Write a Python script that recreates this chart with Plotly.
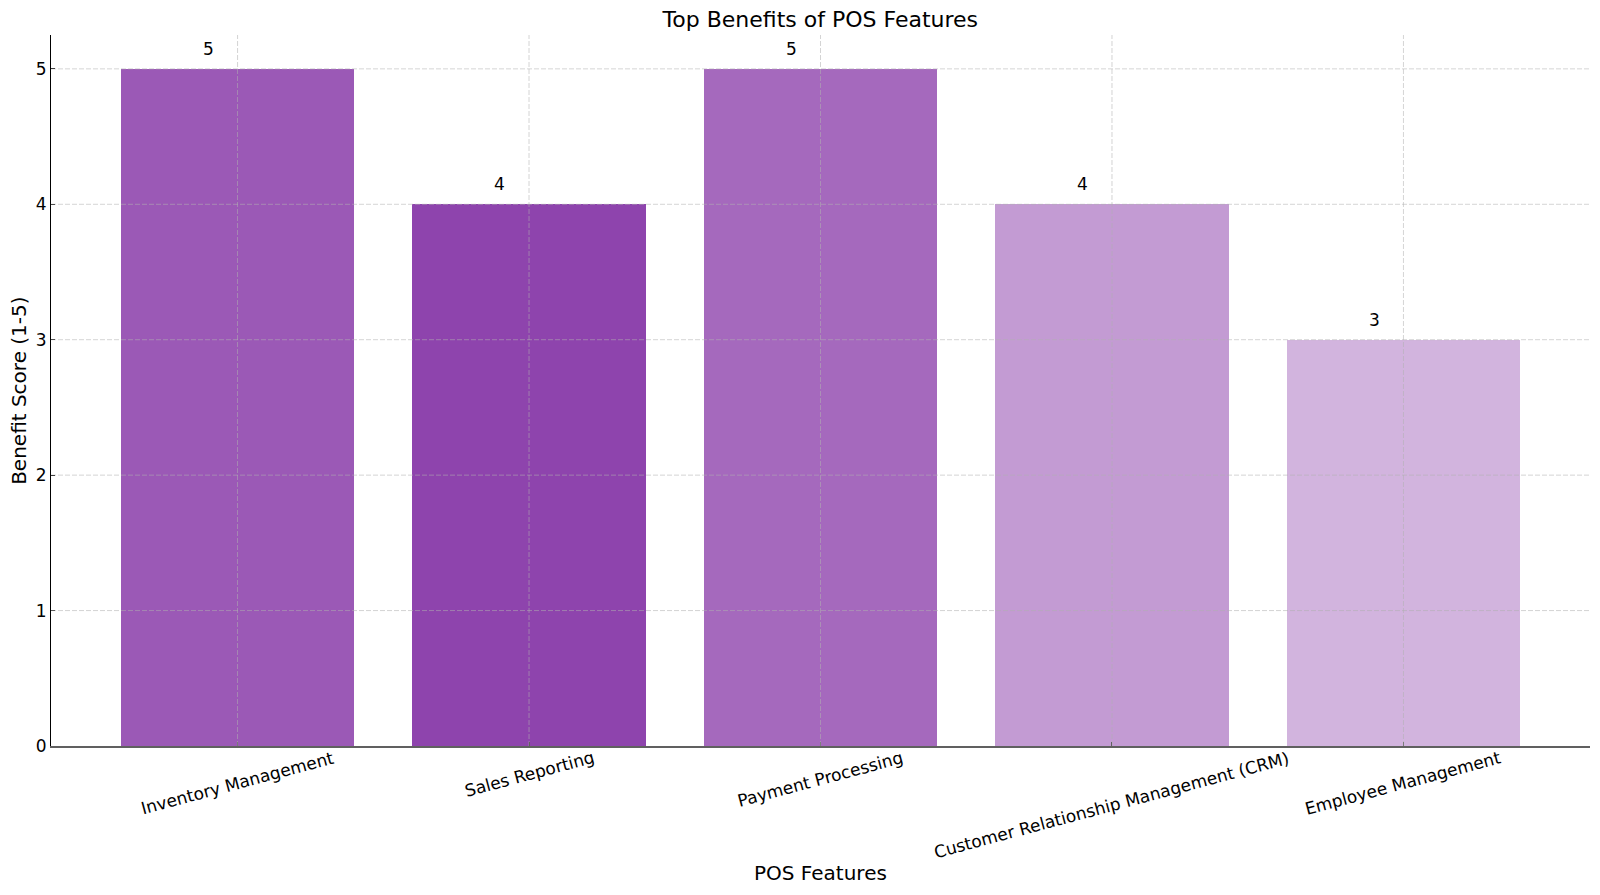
import plotly.graph_objects as go

categories = ["Inventory Management", "Sales Reporting", "Payment Processing",
              "Customer Relationship Management (CRM)", "Employee Management"]
scores = [5, 4, 5, 4, 3]
bar_colors = ["#9B59B6", "#8E44AD", "#A569BD", "#C39BD3", "#D2B4DE"]
y_ticks = [0, 1, 2, 3, 4, 5]

title = "Top Benefits of POS Features"
x_title = "POS Features"
y_title = "Benefit Score (1-5)"

FONT = "DejaVu Sans"
idx = list(range(len(categories)))

fig = go.Figure()
fig.add_trace(go.Bar(x=idx, y=scores, width=0.8, marker=dict(color=bar_colors, line=dict(width=0)),
                     hoverinfo="skip"))

grid = dict(color="rgba(176,176,176,0.55)", width=1, dash="5px,2px")
shapes = []
for t in y_ticks[1:]:
    shapes.append(dict(type="line", xref="paper", yref="y", x0=0, x1=1, y0=t, y1=t,
                       line=grid, layer="above"))
for i in idx:
    shapes.append(dict(type="line", xref="x", yref="paper", x0=i, x1=i, y0=0, y1=1,
                       line=grid, layer="above"))

annotations = []
for i, v in zip(idx, scores):
    annotations.append(dict(x=i - 0.1, y=v, xref="x", yref="y", text=str(v), showarrow=False,
                            xanchor="center", yanchor="bottom", yshift=8,
                            font=dict(family=FONT, size=17, color="black")))
for i, c in zip(idx, categories):
    annotations.append(dict(x=i, y=0, xref="x", yref="paper", text=c, showarrow=False,
                            xanchor="center", yanchor="top", yshift=1, textangle=-15,
                            font=dict(family=FONT, size=17, color="black")))
annotations.append(dict(x=0.5, y=-0.1786, xref="paper", yref="paper", text=x_title, showarrow=False,
                        xanchor="center", yanchor="middle", font=dict(family=FONT, size=20, color="black")))
annotations.append(dict(x=-0.0212, y=0.5, xref="paper", yref="paper", text=y_title, showarrow=False,
                        xanchor="center", yanchor="middle", textangle=-90,
                        font=dict(family=FONT, size=20, color="black")))

fig.update_layout(
    width=1600, height=895,
    margin=dict(l=51, r=10, t=35, b=149),
    paper_bgcolor="white", plot_bgcolor="white",
    title=dict(text=title, x=0.5127, xanchor="center", y=1 - 19.5 / 895, yanchor="middle",
               yref="container", font=dict(family=FONT, size=22, color="black")),
    showlegend=False,
    shapes=shapes,
    annotations=annotations,
    bargap=0,
)
fig.update_xaxes(range=[-0.64, 4.64], tickvals=idx, showticklabels=False, showgrid=False,
                 zeroline=False, showline=True, linecolor="#606060", linewidth=1.5,
                 ticks="inside", ticklen=4, tickcolor="#404040", tickwidth=1)
fig.update_yaxes(range=[0, 5.25], tickvals=y_ticks, showgrid=False, zeroline=False,
                 showline=True, linecolor="black", linewidth=1.2,
                 ticks="inside", ticklen=4, tickcolor="black", tickwidth=1,
                 tickfont=dict(family=FONT, size=17, color="black"))

fig.write_html("out.html")
